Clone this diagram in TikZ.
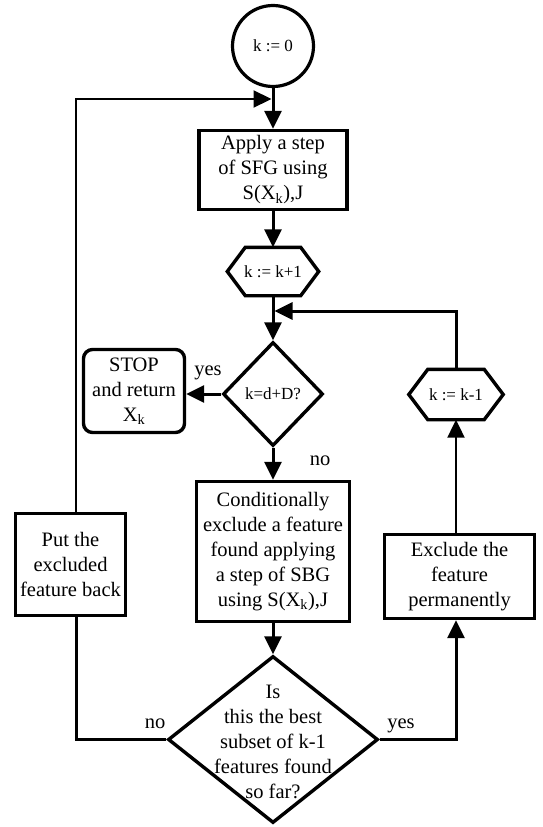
\documentclass[tikz,border=0pt]{standalone}
\usepackage{fontspec}
\setmainfont{Liberation Serif}
\usetikzlibrary{arrows.meta,shapes.geometric}
\newcommand\mainfnt{\fontsize{20.5}{25}\selectfont}
\newcommand\smallfnt{\fontsize{17}{19}\selectfont}
\begin{document}
\begin{tikzpicture}[x=1pt,y=-1pt,
  every node/.style={font=\mainfnt},
  box/.style={draw,rectangle,line width=3.4pt,inner sep=0pt,align=center},
  rbox/.style={box,rounded corners=9pt},
  circ/.style={draw,circle,line width=3.2pt,inner sep=0pt,minimum size=81pt,font=\smallfnt},
  hexanchor/.style={rectangle,inner sep=0pt,font=\smallfnt},
  hexline/.style={line width=3.4pt,line join=miter},
  dia/.style={draw,diamond,line width=3.4pt,inner sep=0pt},
  tip/.style={-{Triangle[length=18pt,width=17pt]}},
  thickarr/.style={line width=3pt,tip},
  thinarr/.style={line width=2.2pt,tip},
  thickline/.style={line width=3pt},
  lbl/.style={anchor=base,inner sep=0pt}
]
\useasboundingbox (0,0) rectangle (542,827);
% nodes
\node[circ] (c0) at (273,46) {k := 0};
\node[box,minimum width=148pt,minimum height=79pt] (apply) at (273,170)
  {Apply a step\\of SFG using\\S(X\textsubscript{k}),J};
\node[hexanchor,minimum width=91pt,minimum height=48pt] (h1) at (273,271.5) {k := k+1};
\node[dia,minimum width=100pt,minimum height=104pt] (d1) at (273,394) {};
\node[font=\smallfnt,inner sep=0pt] (d1t) at (d1) {k=d+D?};
\node[rbox,minimum width=101pt,minimum height=83pt] (stop) at (134,391)
  {STOP\\and return\\X\textsubscript{k}};
\node[box,minimum width=153pt,minimum height=140pt] (cond) at (273,551.5)
  {Conditionally\\exclude a feature\\found applying\\a step of SBG\\using S(X\textsubscript{k}),J};
\node[box,minimum width=110pt,minimum height=102pt] (put) at (70.5,564.5)
  {Put the\\excluded\\feature back};
\node[box,minimum width=150pt,minimum height=84pt] (excl) at (459.5,576.5)
  {Exclude the\\feature\\permanently};
\node[hexanchor,minimum width=94pt,minimum height=50pt] (h2) at (456,394.5) {k := k-1};
\node[dia,minimum width=210pt,minimum height=167pt] (d2) at (273,739.5) {};
\node[align=center,inner sep=0pt] (d2t) at (273,742)
  {Is\\this the best\\subset of k-1\\features found\\so far?};
% hexagon outlines
\draw[hexline] (h1.west) -- ([xshift=18pt]h1.north west) -- ([xshift=-18pt]h1.north east)
  -- (h1.east) -- ([xshift=-18pt]h1.south east) -- ([xshift=18pt]h1.south west) -- cycle;
\draw[hexline] (h2.west) -- ([xshift=19pt]h2.north west) -- ([xshift=-19pt]h2.north east)
  -- (h2.east) -- ([xshift=-19pt]h2.south east) -- ([xshift=19pt]h2.south west) -- cycle;
% helper coordinates
\coordinate (lx) at (76,0);
\coordinate (j1) at (273,99);
\coordinate (j2) at (273,311);
% connectors
\draw[thickarr] (c0) -- (apply);
\draw[thinarr,shorten >=1.5pt] (put.north -| lx) |- (j1);
\draw[thickarr] (apply.south) -- (h1.north);
\draw[thickarr] (h1.south) -- (d1.north);
\draw[thickarr,shorten >=1.5pt] (h2.north) |- (j2);
\draw[thickarr] (d1.west) -- (stop.east |- d1.west);
\draw[thickarr] (d1.south) -- (cond.north);
\draw[thickarr] (cond.south) -- (d2.north);
\draw[thickline] (d2.west) -| (put.south -| lx);
\draw[thickarr] (d2.east) -| (excl.south -| h2);
\draw[thinarr] (excl.north -| h2) -- (h2.south);
% labels
\node[lbl] (ly1) at (208,375) {yes};
\node[lbl] (ln1) at (320,465) {no};
\node[lbl] (ln2) at (155,728) {no};
\node[lbl] (ly2) at (401,728) {yes};
\end{tikzpicture}
\end{document}
